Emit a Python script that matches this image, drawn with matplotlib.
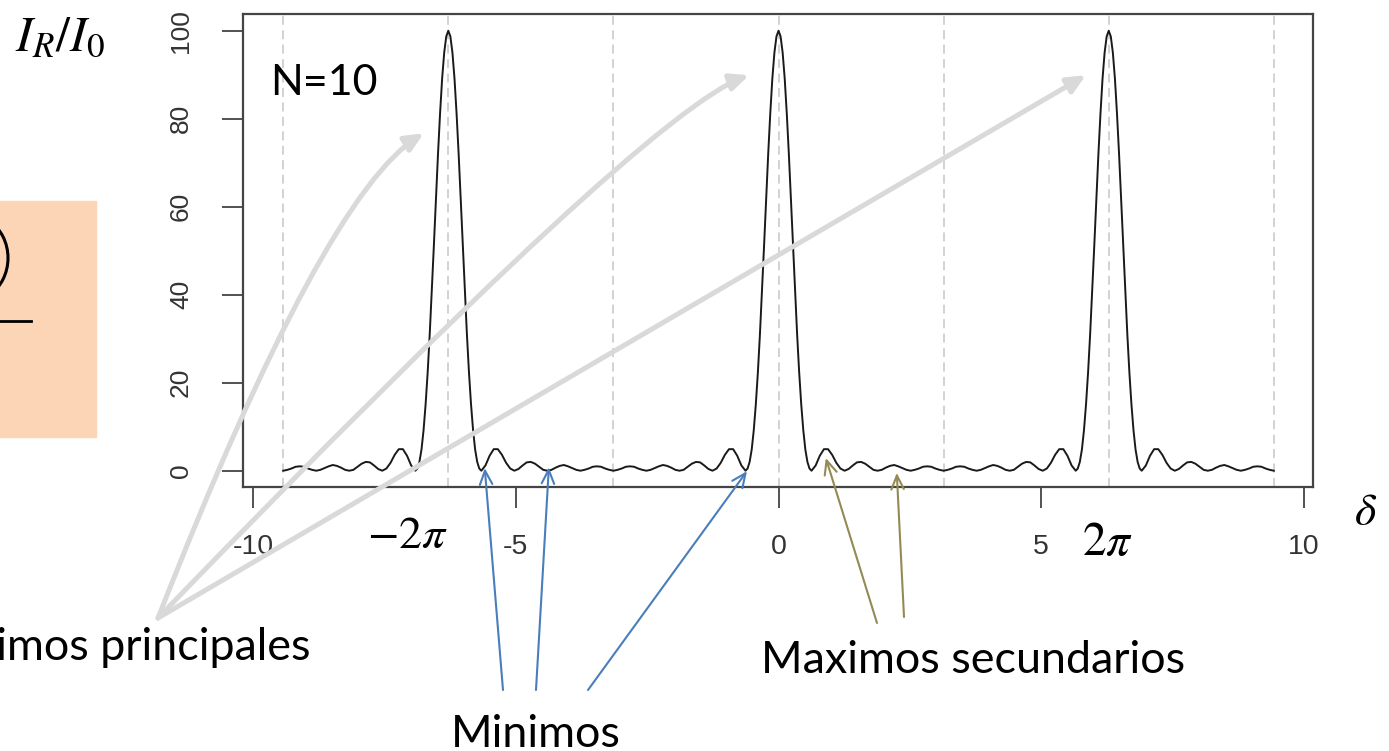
import numpy as np
import matplotlib.pyplot as plt
from matplotlib.patches import Rectangle, Arc

plt.rcParams['mathtext.fontset'] = 'stix'

# ---------------------------
# data (N=10)
# ---------------------------
# principal lobe, delta = 0 .. pi/5 in steps of pi/80
main_lobe = [100, 98.7, 95.0, 89.1, 81.2, 72.0, 61.8, 51.2, 40.9,
             31.1, 22.4, 15.1, 9.2, 4.8, 2.0, 0.5, 0]
# secondary lobes, delta = pi/5 + pi/40 .. pi in steps of pi/40
side_lobes = [1.2, 3.4, 4.9, 4.9, 3.6, 1.8, 0.5, 0,
              0.4, 1.2, 1.9, 2.0, 1.6, 0.9, 0.2, 0,
              0.2, 0.7, 1.1, 1.3, 1.0, 0.6, 0.2, 0,
              0.2, 0.5, 0.9, 1.0, 0.9, 0.5, 0.2, 0]
peak_centres = [-2 * np.pi, 0, 2 * np.pi]
guide_lines = [-3 * np.pi, -2 * np.pi, -np.pi, 0, np.pi, 2 * np.pi, 3 * np.pi]
x_ticks = [-10, -5, 0, 5, 10]
x_labels = ['-10', '-5', '0', '5', '10']
y_ticks = [0, 20, 40, 60, 80, 100]

# arrow targets (delta, intensity)
principal_targets = [(-6.75, 76.7), (-0.56, 89.9), (5.85, 89.9)]
minima_targets = [(-5.59, 0.6), (-4.37, 0.8), (-0.60, -0.1)]
secondary_targets = [(0.90, 2.9), (2.25, -0.5)]

# half period 0..pi, mirrored to -pi..pi, repeated round each principal maximum
half_x = np.concatenate([np.arange(len(main_lobe)) * np.pi / 80,
                         np.pi / 5 + np.arange(1, len(side_lobes) + 1) * np.pi / 40])
half_y = main_lobe + side_lobes
period_x = np.concatenate([-half_x[::-1], half_x[1:]])
period_y = half_y[::-1] + half_y[1:]
delta, intensity = [], []
for i, c in enumerate(peak_centres):
    start = 0 if i == 0 else 1
    delta.extend(c + period_x[start:])
    intensity.extend(period_y[start:])

# ---------------------------
# figure
# ---------------------------
fig = plt.figure(figsize=(13.89, 7.51), dpi=100)
ax = fig.add_axes([243 / 1389, 1 - 487 / 751, 1070 / 1389, 473 / 751])

for g in guide_lines:
    ax.axvline(g, color='#cfcfcf', lw=1.3, ls=(0, (5, 3)), zorder=1)
ax.plot(delta, intensity, color='#1a1a1a', lw=1.4, zorder=2)

ax.set_xlim(-10.19, 10.17)
ax.set_ylim(-3.7, 103.8)
ax.set_xticks(x_ticks)
ax.set_xticklabels(x_labels)
ax.set_yticks(y_ticks)
ax.set_yticklabels([str(v) for v in y_ticks], rotation=90, va='center')
for s in ax.spines.values():
    s.set_color('#444444')
    s.set_linewidth(1.6)
ax.tick_params(direction='out', length=15, width=1.3, color='#444444',
               labelcolor='#333333')
ax.tick_params(axis='x', pad=19, labelsize=20.5)
ax.tick_params(axis='y', pad=21, labelsize=19)
for lab in ax.get_xticklabels() + ax.get_yticklabels():
    lab.set_family('Liberation Sans')

# overlay in pixel coordinates for the slide annotations
ov = fig.add_axes([0, 0, 1, 1], zorder=5)
ov.set_xlim(0, 1389)
ov.set_ylim(751, 0)
ov.axis('off')
ov.patch.set_alpha(0)

ov.add_patch(Rectangle((0, 201), 96, 236, color='#FBD5B5', zorder=0))
ov.add_patch(Arc((-30, 258), 76, 86, theta1=-62, theta2=62, color='black', lw=2.2))
ov.plot([0, 31], [321, 321], color='black', lw=2)

ov.text(15, 50, r'$I_R/I_0$', fontsize=36, ha='left', va='baseline')
ov.text(407, 548, r'$-2\pi$', fontsize=33, ha='center', va='baseline')
ov.text(1107, 555, r'$2\pi$', fontsize=34, ha='center', va='baseline')
ov.text(1366, 525, r'$\delta$', fontsize=33, ha='center', va='baseline')

slide_font = dict(family='Lato', fontsize=32.3, color='black')
ov.text(270, 95, 'N=10', ha='left', va='baseline',
        family='Lato', fontsize=31, color='black')
ov.text(311, 660, 'Maximos principales', ha='right', va='baseline', **slide_font)
ov.text(536, 747, 'Minimos', ha='center', va='baseline', **slide_font)
ov.text(973, 673, 'Maximos secundarios', ha='center', va='baseline', **slide_font)

# gray arrows to the principal maxima
gray_start = (158, 618)
gray_curves = ['angle3,angleA=68.6,angleB=31.3',
               'angle3,angleA=46,angleB=19.8',
               'arc3,rad=0']
for tgt, cs in zip(principal_targets, gray_curves):
    ov.annotate('', xy=tgt, xycoords=ax.transData, xytext=gray_start,
                textcoords='data',
                arrowprops=dict(arrowstyle='-|>,head_length=1.1,head_width=0.5',
                                color='#D9D9D9', lw=3.6, shrinkA=0, shrinkB=0,
                                connectionstyle=cs))

# blue arrows to the minima
for tgt, st in zip(minima_targets, [(503, 690), (536, 690), (588, 690)]):
    ov.annotate('', xy=tgt, xycoords=ax.transData, xytext=st, textcoords='data',
                arrowprops=dict(arrowstyle='->,head_length=1.0,head_width=0.45',
                                color='#4A7EBB', lw=1.5, shrinkA=0, shrinkB=0))

# olive arrows to the secondary maxima
for tgt, st in zip(secondary_targets, [(877, 623), (904, 617)]):
    ov.annotate('', xy=tgt, xycoords=ax.transData, xytext=st, textcoords='data',
                arrowprops=dict(arrowstyle='->,head_length=1.0,head_width=0.45',
                                color='#948A54', lw=1.5, shrinkA=0, shrinkB=0))

plt.savefig('out.png', dpi=100)
